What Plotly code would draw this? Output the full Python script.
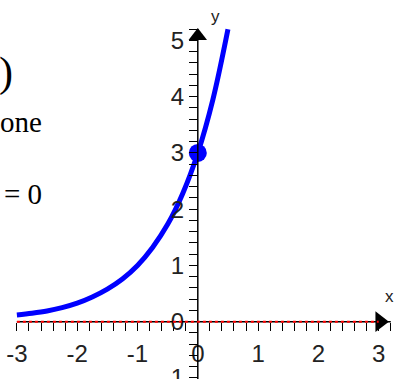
import plotly.graph_objects as go

# ---- data ----
curve_x = [-3, -2.75, -2.5, -2.25, -2, -1.75, -1.5, -1.25, -1, -0.75, -0.5, -0.25, 0, 0.25, 0.5]
curve_y = [0.12, 0.15, 0.19, 0.25, 0.33, 0.44, 0.58, 0.76, 1.0, 1.32, 1.73, 2.28, 3.0, 3.95, 5.2]
point_x = [0]
point_y = [3]
x_ticks = [-3, -2, -1, 0, 1, 2, 3]
y_ticks = [-1, 0, 1, 2, 3, 4, 5]
x_minor = [round(-3 + 0.2 * i, 1) for i in range(32)]
y_minor = [round(-1.2 + 0.2 * i, 1) for i in range(33)]
side_texts = [")", "one", "= 0"]

X_RANGE = [-3.28, 3.27]
Y_RANGE = [-1.02, 5.72]

fig = go.Figure()

fig.add_trace(go.Scatter(x=curve_x, y=curve_y, mode="lines",
                         line=dict(color="#0000ff", width=5, shape="spline"),
                         hoverinfo="skip", showlegend=False))
fig.add_trace(go.Scatter(x=point_x, y=point_y, mode="markers",
                         marker=dict(color="#0000ff", size=18, line=dict(width=0)),
                         showlegend=False))
# axis arrows
fig.add_trace(go.Scatter(x=[0], y=[5.08], mode="markers",
                         marker=dict(symbol="triangle-up", color="black", size=16),
                         showlegend=False))
fig.add_trace(go.Scatter(x=[3.02], y=[0], mode="markers",
                         marker=dict(symbol="triangle-right", color="black", size=18),
                         showlegend=False))

# axis lines
fig.add_shape(type="line", x0=0, x1=0, y0=Y_RANGE[0] - 0.1, y1=5.2,
              line=dict(color="black", width=1.5), layer="above")
fig.add_shape(type="line", x0=-3, x1=3.2, y0=0, y1=0,
              line=dict(color="black", width=1.5), layer="above")
fig.add_shape(type="line", x0=-3, x1=3.0, y0=0, y1=0,
              line=dict(color="#ff0000", width=2, dash="dot"), layer="above")

tickfont = dict(family="Liberation Sans, Arial, sans-serif", size=24, color="#222")

fig.update_xaxes(range=X_RANGE, anchor="free", position=(0 - Y_RANGE[0]) / (Y_RANGE[1] - Y_RANGE[0]),
                 showgrid=False, zeroline=False, showline=False,
                 tickmode="array", tickvals=x_ticks, ticktext=[str(v) for v in x_ticks],
                 ticks="outside", ticklen=8, tickcolor="black", tickwidth=1.2,
                 tickfont=tickfont, ticklabelstandoff=3, automargin=False,
                 minor=dict(tickmode="array", tickvals=x_minor, ticks="outside",
                            ticklen=8, tickcolor="black", tickwidth=1.2))
fig.update_yaxes(range=Y_RANGE, anchor="free", position=(0 - X_RANGE[0]) / (X_RANGE[1] - X_RANGE[0]),
                 showgrid=False, zeroline=False, showline=False,
                 tickmode="array", tickvals=y_ticks, ticktext=[str(v) for v in y_ticks],
                 ticks="outside", ticklen=9, tickcolor="black", tickwidth=1.2,
                 tickfont=tickfont, ticklabeloverflow="allow", automargin=False,
                 minor=dict(tickmode="array", tickvals=y_minor, ticks="outside",
                            ticklen=9, tickcolor="black", tickwidth=1.2))

serif = "Liberation Serif, Times New Roman, serif"
fig.add_annotation(text=side_texts[0], xref="paper", yref="paper", x=15 / 395, y=1 - 73 / 379,
                   xanchor="right", yanchor="middle", showarrow=False,
                   font=dict(family=serif, size=42, color="black"))
fig.add_annotation(text=side_texts[1], xref="paper", yref="paper", x=44 / 395, y=1 - 122 / 379,
                   xanchor="right", yanchor="middle", showarrow=False,
                   font=dict(family=serif, size=29, color="black"))
fig.add_annotation(text=side_texts[2], xref="paper", yref="paper", x=44 / 395, y=1 - 194 / 379,
                   xanchor="right", yanchor="middle", showarrow=False,
                   font=dict(family=serif, size=29, color="black"))

sans = "Liberation Sans, Arial, sans-serif"
fig.add_annotation(text="x", x=3.18, y=0.44, showarrow=False,
                   font=dict(family=sans, size=17, color="#222"))
fig.add_annotation(text="y", x=0.3, y=5.42, showarrow=False,
                   font=dict(family=sans, size=17, color="#222"))

fig.update_layout(width=395, height=379, margin=dict(l=0, r=0, t=0, b=0, autoexpand=False),
                  paper_bgcolor="white", plot_bgcolor="white", showlegend=False)

fig.write_html("out.html", config={"displayModeBar": False},
               post_script="document.body.style.margin='0';document.body.style.overflow='hidden';")
